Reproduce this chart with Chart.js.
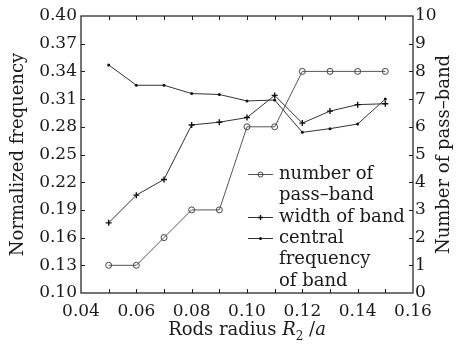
<!DOCTYPE html>
<html>
<head>
<meta charset="utf-8">
<script src="https://cdn.jsdelivr.net/npm/chart.js@4"></script>
<style>
  html, body { margin: 0; padding: 0; background: #fff; }
  #wrap { width: 463px; height: 345px; }
</style>
</head>
<body>
<div id="wrap"><canvas id="chart" width="463" height="345"></canvas></div>
<script>
// values
const radius = [0.05, 0.06, 0.07, 0.08, 0.09, 0.10, 0.11, 0.12, 0.13, 0.14, 0.15];
const passBands = [1, 1, 2, 3, 3, 6, 6, 8, 8, 8, 8];
const bandWidth = [0.176, 0.206, 0.223, 0.282, 0.285, 0.290, 0.314, 0.284, 0.297, 0.304, 0.305];
const centralFreq = [0.347, 0.325, 0.325, 0.316, 0.315, 0.308, 0.309, 0.274, 0.278, 0.283, 0.310];

const xTicks = [0.04, 0.06, 0.08, 0.10, 0.12, 0.14, 0.16];
const freqTicks = [0.10, 0.13, 0.16, 0.19, 0.22, 0.25, 0.28, 0.31, 0.34, 0.37, 0.40];
const countTicks = [0, 1, 2, 3, 4, 5, 6, 7, 8, 9, 10];

const FONT = "DejaVu Serif";
const INK = "#1a1a1a";

Chart.defaults.font.family = FONT;
Chart.defaults.color = INK;

function pairs(ys) {
  return radius.map((x, i) => ({ x, y: ys[i] }));
}

// frame box + inward tick marks
const frameTicks = {
  id: "frameTicks",
  afterDraw(chart) {
    const { ctx, chartArea: a, scales } = chart;
    ctx.save();
    ctx.strokeStyle = INK;
    ctx.lineWidth = 1.2;
    ctx.strokeRect(a.left, a.top, a.right - a.left, a.bottom - a.top);
    ctx.lineWidth = 1;
    ctx.beginPath();
    for (let k = 5; k <= 15; k++) {
      const px = Math.round(scales.x.getPixelForValue(k / 100)) + 0.5;
      ctx.moveTo(px, a.bottom); ctx.lineTo(px, a.bottom - 4);
      ctx.moveTo(px, a.top); ctx.lineTo(px, a.top + 4);
    }
    freqTicks.slice(1, -1).forEach((v) => {
      const py = Math.round(scales.y.getPixelForValue(v)) + 0.5;
      ctx.moveTo(a.left, py); ctx.lineTo(a.left + 4, py);
    });
    countTicks.slice(1, -1).forEach((v) => {
      const py = Math.round(scales.y2.getPixelForValue(v)) + 0.5;
      ctx.moveTo(a.right, py); ctx.lineTo(a.right - 4, py);
    });
    ctx.stroke();
    ctx.restore();
  },
};

// axis titles (x title has italic R with subscript)
const axisTitles = {
  id: "axisTitles",
  afterDraw(chart) {
    const { ctx, chartArea: a } = chart;
    const mid = (a.top + a.bottom) / 2;
    ctx.save();
    ctx.fillStyle = INK;
    ctx.textAlign = "center";
    ctx.textBaseline = "middle";
    ctx.font = "18px " + FONT;

    ctx.save();
    ctx.translate(18, mid);
    ctx.rotate(-Math.PI / 2);
    ctx.fillText("Normalized frequency", 0, 0);
    ctx.restore();

    ctx.save();
    ctx.translate(444, mid);
    ctx.rotate(-Math.PI / 2);
    ctx.fillText("Number of pass\u2013band", 0, 0);
    ctx.restore();

    const parts = [
      { t: "Rods radius ", f: "18px " + FONT, dy: 0 },
      { t: "R", f: "italic 18px " + FONT, dy: 0 },
      { t: "2", f: "12px " + FONT, dy: 5 },
      { t: " /", f: "18px " + FONT, dy: 0 },
      { t: "a", f: "italic 18px " + FONT, dy: 0 },
    ];
    let total = 0;
    parts.forEach((p) => { ctx.font = p.f; p.w = ctx.measureText(p.t).width; total += p.w; });
    let x = (a.left + a.right) / 2 - total / 2;
    ctx.textAlign = "left";
    ctx.textBaseline = "alphabetic";
    parts.forEach((p) => {
      ctx.font = p.f;
      ctx.fillText(p.t, x, 335 + p.dy);
      x += p.w;
    });
    ctx.restore();
  },
};

// legend inside the plot, multi-line labels
const innerLegend = {
  id: "innerLegend",
  afterDraw(chart) {
    const { ctx } = chart;
    const rows = [
      { ds: 0, lines: ["number of", "pass\u2013band"], y: 174 },
      { ds: 1, lines: ["width of band"], y: 217 },
      { ds: 2, lines: ["central", "frequency", "of band"], y: 238 },
    ];
    ctx.save();
    ctx.font = "18px " + FONT;
    ctx.textBaseline = "middle";
    ctx.textAlign = "left";
    rows.forEach((r) => {
      const ds = chart.data.datasets[r.ds];
      ctx.strokeStyle = ds.borderColor;
      ctx.lineWidth = 1;
      ctx.beginPath();
      ctx.moveTo(248, r.y + 0.5); ctx.lineTo(273, r.y + 0.5);
      ctx.stroke();
      ctx.save();
      ctx.strokeStyle = ds.pointBorderColor;
      ctx.fillStyle = ds.pointBackgroundColor;
      ctx.lineWidth = ds.pointBorderWidth;
      Chart.helpers.drawPoint(ctx, {
        pointStyle: ds.pointStyle,
        radius: Math.min(ds.pointRadius, 2.5),
        borderWidth: ds.pointBorderWidth,
      }, 260.5, r.y + 0.5);
      ctx.restore();
      ctx.fillStyle = INK;
      r.lines.forEach((t, i) => ctx.fillText(t, 279, r.y + i * 21.5));
    });
    ctx.restore();
  },
};

new Chart(document.getElementById("chart"), {
  type: "line",
  data: {
    datasets: [
      {
        label: "number of pass\u2013band",
        data: pairs(passBands),
        yAxisID: "y2",
        borderColor: "#555",
        borderWidth: 1,
        pointStyle: "circle",
        pointRadius: 3,
        pointBorderWidth: 1,
        pointBorderColor: "#444",
        pointBackgroundColor: "rgba(255,255,255,0)",
      },
      {
        label: "width of band",
        data: pairs(bandWidth),
        yAxisID: "y",
        borderColor: "#333",
        borderWidth: 1,
        pointStyle: "cross",
        pointRadius: 3,
        pointBorderWidth: 1.4,
        pointBorderColor: "#111",
        pointBackgroundColor: "#111",
      },
      {
        label: "central frequency of band",
        data: pairs(centralFreq),
        yAxisID: "y",
        borderColor: "#333",
        borderWidth: 1,
        pointStyle: "circle",
        pointRadius: 1.5,
        pointBorderWidth: 0,
        pointBorderColor: "#111",
        pointBackgroundColor: "#111",
      },
    ],
  },
  options: {
    responsive: false,
    animation: false,
    devicePixelRatio: 1,
    layout: { padding: { top: 16, left: 0, right: 0, bottom: 0 } },
    plugins: {
      legend: { display: false },
      tooltip: { enabled: false },
    },
    scales: {
      x: {
        type: "linear",
        min: 0.04,
        max: 0.16,
        grid: { display: false, drawTicks: false },
        border: { display: false },
        afterBuildTicks: (s) => { s.ticks = xTicks.map((value) => ({ value })); },
        afterFit: (s) => { s.height = 52; },
        ticks: {
          padding: 8,
          font: { size: 17 },
          callback: (v) => Number(v).toFixed(2),
        },
      },
      y: {
        position: "left",
        min: 0.10,
        max: 0.40,
        grid: { display: false, drawTicks: false },
        border: { display: false },
        afterBuildTicks: (s) => { s.ticks = freqTicks.map((value) => ({ value })); },
        afterFit: (s) => { s.width = 81; },
        ticks: {
          padding: 4,
          font: { size: 17 },
          callback: (v) => Number(v).toFixed(2),
        },
      },
      y2: {
        position: "right",
        min: 0,
        max: 10,
        grid: { display: false, drawTicks: false },
        border: { display: false },
        afterBuildTicks: (s) => { s.ticks = countTicks.map((value) => ({ value })); },
        afterFit: (s) => { s.width = 50; },
        ticks: {
          padding: 2,
          font: { size: 17 },
        },
      },
    },
  },
  plugins: [frameTicks, axisTitles, innerLegend],
});
</script>
</body>
</html>
